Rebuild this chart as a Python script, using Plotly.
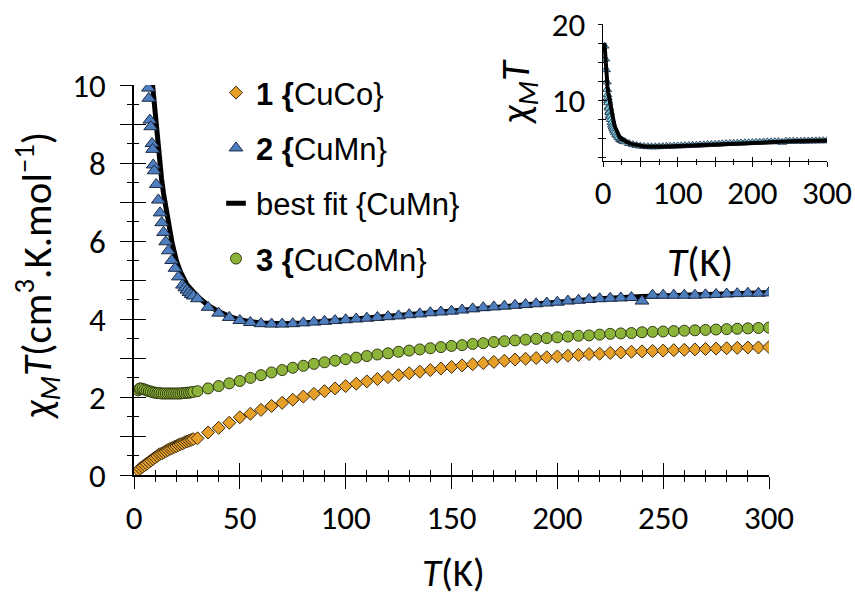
import plotly.graph_objects as go

# ---------------- data ----------------
# 1 {CuCo}
T_cuco = [2, 3, 4, 5, 6, 7, 8, 9, 10, 11, 12, 13, 14, 15, 16, 17, 18, 19, 20, 21, 22, 23, 24, 25, 26, 27, 28,
          30, 35, 40, 45, 50, 55, 60, 65, 70, 75, 80, 85, 90, 95, 100, 105, 110, 115, 120, 125, 130, 135, 140,
          145, 150, 155, 160, 165, 170, 175, 180, 185, 190, 195, 200, 205, 210, 215, 220, 225, 230, 235, 240,
          245, 250, 255, 260, 265, 270, 275, 280, 285, 290, 295, 300]
chi_cuco = [0.12, 0.17, 0.21, 0.25, 0.29, 0.33, 0.37, 0.41, 0.45, 0.49, 0.53, 0.55, 0.58, 0.61, 0.64, 0.67, 0.69,
            0.72, 0.74, 0.77, 0.79, 0.81, 0.84, 0.86, 0.88, 0.90, 0.92,
            0.94, 1.09, 1.21, 1.34, 1.48, 1.57, 1.67, 1.77, 1.85, 1.93, 2.01, 2.08, 2.15, 2.22, 2.28, 2.34, 2.40,
            2.46, 2.51, 2.56, 2.61, 2.65, 2.69, 2.73, 2.77, 2.81, 2.84, 2.87, 2.90, 2.93, 2.96, 2.98, 3.00, 3.02,
            3.04, 3.06, 3.08, 3.10, 3.11, 3.13, 3.14, 3.16, 3.17, 3.18, 3.19, 3.20, 3.21, 3.22, 3.23, 3.24, 3.25,
            3.26, 3.27, 3.27, 3.28]

# 2 {CuMn}
T_cumn = [2, 3, 4, 5, 5.5, 6, 6.4, 6.8, 7.0, 7.5, 7.9, 8.5, 8.8, 9.1, 9.5, 10.5, 11.5, 12.3, 13.1, 14.0, 15.0,
          16.2, 17.8, 19.4, 21.0, 22.9, 24.0, 25.0, 26.0, 27.0, 28.0,
          30, 35, 40, 45, 50, 55, 60, 65, 70, 75, 80, 85, 90, 95, 100, 105, 110, 115, 120, 125, 130, 135, 140,
          145, 150, 155, 160, 165, 170, 175, 180, 185, 190, 195, 200, 205, 210, 215, 220, 225, 230, 235, 240,
          245, 250, 255, 260, 265, 270, 275, 280, 285, 290, 295, 300]
chi_cumn = [17.1, 15.4, 14.0, 12.4, 11.4, 10.7, 10.3, 9.92, 9.66, 9.1, 8.93, 8.5, 8.35, 7.95, 7.8, 7.45, 7.05,
            6.72, 6.47, 6.22, 5.98, 5.75, 5.5, 5.3, 5.08, 4.87, 4.80, 4.74, 4.68, 4.63, 4.59,
            4.52, 4.30, 4.15, 4.04, 3.96, 3.91, 3.88, 3.87, 3.87, 3.88, 3.90, 3.92, 3.94, 3.96, 3.98, 4.00, 4.02,
            4.04, 4.06, 4.08, 4.11, 4.13, 4.16, 4.18, 4.20, 4.23, 4.26, 4.29, 4.31, 4.33, 4.35, 4.37, 4.39, 4.41,
            4.43, 4.46, 4.48, 4.50, 4.52, 4.53, 4.54, 4.55, 4.46, 4.61, 4.61, 4.61, 4.61, 4.61, 4.62, 4.63, 4.64,
            4.65, 4.66, 4.66, 4.67]

# best fit {CuMn}
T_fit = [2, 3, 4, 5, 6, 7, 8, 9, 10, 11, 12, 13, 14, 15, 16, 18, 20, 22, 25, 28, 30, 35, 40, 45, 50, 55, 60,
         70, 80, 100, 120, 150, 180, 200, 220, 240, 260, 280, 300]
chi_fit = [17.5, 15.6, 14.1, 12.8, 11.8, 11.0, 10.4, 9.8, 9.15, 8.6, 8.1, 7.6, 7.2, 6.85, 6.5, 5.95, 5.5, 5.2,
           4.88, 4.68, 4.58, 4.35, 4.19, 4.07, 3.98, 3.93, 3.90, 3.88, 3.90, 3.98, 4.07, 4.21, 4.35, 4.44, 4.52,
           4.58, 4.62, 4.65, 4.68]

# 3 {CuCoMn}
T_cucomn = [2, 2.5, 3, 4, 5, 6, 7, 8, 9, 10, 11, 12, 13, 14, 15, 16, 17, 18, 19, 20, 21, 22, 23, 24, 25, 26,
            27, 28,
            30, 35, 40, 45, 50, 55, 60, 65, 70, 75, 80, 85, 90, 95, 100, 105, 110, 115, 120, 125, 130, 135, 140,
            145, 150, 155, 160, 165, 170, 175, 180, 185, 190, 195, 200, 205, 210, 215, 220, 225, 230, 235, 240,
            245, 250, 255, 260, 265, 270, 275, 280, 285, 290, 295, 300]
chi_cucomn = [2.17, 2.21, 2.22, 2.21, 2.19, 2.17, 2.15, 2.14, 2.12, 2.11, 2.10, 2.10, 2.09, 2.09, 2.09, 2.09,
              2.09, 2.09, 2.09, 2.09, 2.09, 2.09, 2.10, 2.10, 2.11, 2.11, 2.12, 2.13,
              2.15, 2.22, 2.28, 2.35, 2.41, 2.49, 2.56, 2.63, 2.69, 2.75, 2.80, 2.85, 2.89, 2.93, 2.97, 3.01,
              3.05, 3.09, 3.12, 3.16, 3.19, 3.22, 3.25, 3.28, 3.31, 3.33, 3.36, 3.38, 3.41, 3.43, 3.45, 3.47,
              3.49, 3.51, 3.53, 3.55, 3.57, 3.58, 3.60, 3.62, 3.63, 3.64, 3.66, 3.67, 3.68, 3.69, 3.70, 3.71,
              3.72, 3.73, 3.74, 3.75, 3.76, 3.77, 3.78]

# tick labels
y_main_ticks = [0, 1, 2, 3, 4, 5, 6, 7, 8, 9, 10]
y_main_text = ["0", "", "2", "", "4", "", "6", "", "8", "", "10"]
x_main_ticks = [0, 50, 100, 150, 200, 250, 300]
x_inset_ticks = [0, 50, 100, 150, 200, 250, 300]
x_inset_text = ["0", "", "100", "", "200", "", "300"]
y_inset_ticks = [10, 20]

# ---------------- styling ----------------
W, H = 855, 599
AX_FONT = dict(family="Carlito, Lato, sans-serif", size=33, color="black")
TITLE_FONT = dict(family="Carlito, Lato, sans-serif", size=41, color="black")
XTITLE_FONT = dict(family="Carlito, Lato, sans-serif", size=39, color="black")
LEG_FONT = dict(family="Liberation Sans, Arial, sans-serif", size=31, color="black")


def dx(p):
    return p / W


def dy(p):
    return 1 - p / H


main_x = [dx(134), dx(769)]
main_y = [dy(475), dy(85)]
ins_x = [dx(603), dx(827)]
ins_y = [dy(161), dy(24)]

fig = go.Figure()

# main traces
fig.add_trace(go.Scatter(
    x=T_cuco, y=chi_cuco, mode="markers", name="<b>1 {</b>CuCo}", legendrank=1, legendgroup="a",
    marker=dict(symbol="diamond", size=10, color="#E6A02A", line=dict(color="#3a2a10", width=1)),
    xaxis="x", yaxis="y"))
fig.add_trace(go.Scatter(
    x=T_fit, y=chi_fit, mode="lines", showlegend=False,
    line=dict(color="black", width=5), xaxis="x", yaxis="y"))
fig.add_trace(go.Scatter(
    x=T_cumn, y=chi_cumn, mode="markers", name="<b>2 {</b>CuMn}", legendrank=2, legendgroup="b",
    marker=dict(symbol="triangle-up", size=12, color="#4F7EBF", line=dict(color="#1c2a44", width=1)),
    xaxis="x", yaxis="y"))
fig.add_trace(go.Scatter(
    x=[None], y=[None], mode="markers", name="best fit {CuMn}", legendrank=3, legendgroup="c",
    marker=dict(symbol="line-ew", size=14, line=dict(color="black", width=5)),
    xaxis="x", yaxis="y"))
fig.add_trace(go.Scatter(
    x=T_cucomn, y=chi_cucomn, mode="markers", name="<b>3 {</b>CuCoMn}", legendrank=4, legendgroup="d",
    marker=dict(symbol="circle", size=11, color="#8DB43A", line=dict(color="#2f3a10", width=1)),
    xaxis="x", yaxis="y"))

# inset traces
fig.add_trace(go.Scatter(
    x=T_cumn, y=chi_cumn, mode="markers", showlegend=False,
    marker=dict(symbol="triangle-up", size=8, color="#7FD1E3", line=dict(color="#1c2a44", width=0.8)),
    xaxis="x2", yaxis="y2"))
fig.add_trace(go.Scatter(
    x=T_fit, y=chi_fit, mode="lines", showlegend=False,
    line=dict(color="black", width=4), xaxis="x2", yaxis="y2"))

# empty carriers for the tick-overlay axes (give the inward half of crossing ticks)
fig.add_trace(go.Scatter(x=[None], y=[None], mode="markers", showlegend=False, hoverinfo="skip",
                         xaxis="x3", yaxis="y3"))
fig.add_trace(go.Scatter(x=[None], y=[None], mode="markers", showlegend=False, hoverinfo="skip",
                         xaxis="x4", yaxis="y4"))

common = dict(showgrid=False, zeroline=False, tickcolor="black", tickwidth=1.3, automargin=False,
              ticklabeloverflow="allow")

fig.update_layout(
    width=W, height=H,
    margin=dict(l=0, r=0, t=0, b=0, pad=0, autoexpand=False),
    paper_bgcolor="white", plot_bgcolor="rgba(0,0,0,0)",
    font=AX_FONT,
    showlegend=True,
    legend=dict(x=dx(216), y=dy(66), xanchor="left", yanchor="top", font=LEG_FONT,
                bgcolor="rgba(0,0,0,0)", tracegroupgap=12, itemsizing="trace", itemwidth=30),
    xaxis=dict(domain=main_x, range=[0, 300], anchor="y", showline=True, linecolor="black", linewidth=1.5,
               tickmode="array", tickvals=x_main_ticks, ticks="outside", ticklen=12,
               minor=dict(dtick=10, tick0=0, ticks="outside", ticklen=5, tickcolor="black", tickwidth=1.3),
               tickfont=AX_FONT, ticklabelstandoff=1, **common),
    yaxis=dict(domain=main_y, range=[0, 10], anchor="x", showline=True, linecolor="black", linewidth=1.5,
               tickmode="array", tickvals=y_main_ticks, ticktext=y_main_text, ticks="outside", ticklen=12,
               minor=dict(dtick=0.5, tick0=0, ticks="outside", ticklen=5, tickcolor="black", tickwidth=1.3),
               tickfont=AX_FONT, ticklabelstandoff=8, **common),
    xaxis3=dict(overlaying="x", range=[0, 300], anchor="y3", showline=False, showticklabels=False,
                tickmode="array", tickvals=x_main_ticks, ticks="inside", ticklen=12,
                minor=dict(dtick=10, tick0=0, ticks="inside", ticklen=5, tickcolor="black", tickwidth=1.3),
                **common),
    yaxis3=dict(overlaying="y", range=[0, 10], anchor="x3", showline=False, showticklabels=False,
                tickmode="array", tickvals=y_main_ticks, ticks="inside", ticklen=12,
                minor=dict(dtick=0.5, tick0=0, ticks="inside", ticklen=5, tickcolor="black", tickwidth=1.3),
                **common),
    xaxis2=dict(domain=ins_x, range=[0, 300], anchor="y2", showline=True, linecolor="black", linewidth=1.2,
                tickmode="array", tickvals=x_inset_ticks, ticktext=x_inset_text, ticks="outside", ticklen=5,
                minor=dict(dtick=25, tick0=0, ticks="outside", ticklen=3, tickcolor="black", tickwidth=1),
                tickfont=AX_FONT, ticklabelstandoff=-3, **common),
    yaxis2=dict(domain=ins_y, range=[2, 20], anchor="x2", showline=True, linecolor="black", linewidth=1.2,
                tickmode="array", tickvals=y_inset_ticks, ticks="outside", ticklen=4,
                minor=dict(dtick=2.5, tick0=0, ticks="outside", ticklen=4, tickcolor="black", tickwidth=1),
                tickfont=AX_FONT, ticklabelstandoff=6, **common),
    xaxis4=dict(overlaying="x2", range=[0, 300], anchor="y4", showline=False, showticklabels=False,
                tickmode="array", tickvals=x_inset_ticks, ticks="inside", ticklen=4,
                minor=dict(dtick=25, tick0=0, ticks="inside", ticklen=2, tickcolor="black", tickwidth=1),
                **common),
    yaxis4=dict(overlaying="y2", range=[2, 20], anchor="x4", showline=False, showticklabels=False,
                tickmode="array", tickvals=y_inset_ticks, ticks="inside", ticklen=4,
                minor=dict(dtick=2.5, tick0=0, ticks="inside", ticklen=3, tickcolor="black", tickwidth=1),
                **common),
)

fig.add_annotation(text="<i>T</i>(K)", x=dx(453), y=dy(572), xref="paper", yref="paper",
                   showarrow=False, font=XTITLE_FONT, xanchor="center", yanchor="middle")
fig.add_annotation(text="<i>χ<sub>M</sub>T</i>(cm<sup>3</sup>.K.mol<sup>−1</sup>)", x=dx(38), y=dy(276),
                   xref="paper", yref="paper", showarrow=False, font=TITLE_FONT, textangle=-90,
                   xanchor="center", yanchor="middle")
fig.add_annotation(text="<i>χ<sub>M</sub>T</i>", x=dx(518), y=dy(92), xref="paper", yref="paper",
                   showarrow=False, font=TITLE_FONT, textangle=-90, xanchor="center", yanchor="middle")
fig.add_annotation(text="<i>T</i>(K)", x=dx(700), y=dy(262), xref="paper", yref="paper",
                   showarrow=False, font=TITLE_FONT, xanchor="center", yanchor="middle")

# the page's default 8px body margin would shift and crop the fixed-size figure
fig.write_html("out.html", config={"displayModeBar": False},
               post_script="document.body.style.margin='0px';")
